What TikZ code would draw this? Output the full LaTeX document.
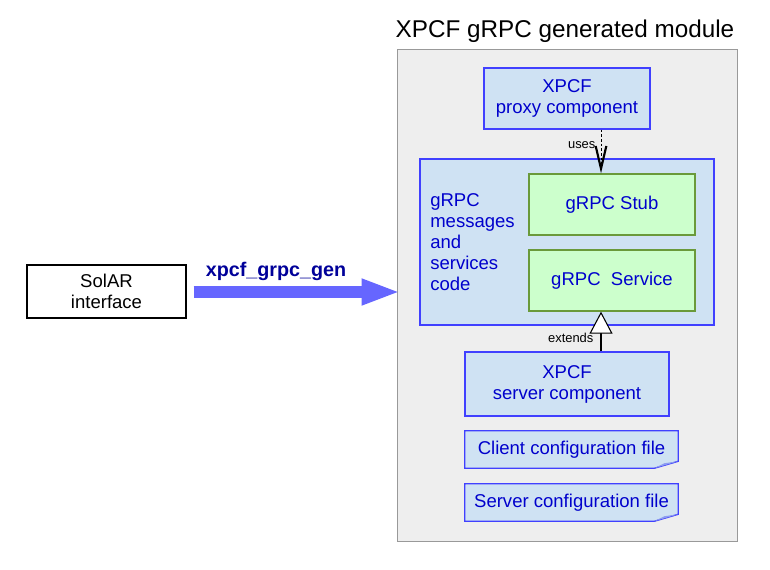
\documentclass[tikz,border=0pt]{standalone}
\usepackage{fontspec}
\setmainfont{Liberation Sans}
\usetikzlibrary{arrows.meta,calc}
\definecolor{txtblue}{HTML}{0000CC}
\definecolor{bordblue}{HTML}{4040FF}
\definecolor{fillblue}{HTML}{CFE2F3}
\definecolor{fillgreen}{HTML}{CCFFCC}
\definecolor{bordgreen}{HTML}{6A9A3A}
\definecolor{arrowblue}{HTML}{6666FF}
\definecolor{navy}{HTML}{000099}
\definecolor{modgray}{HTML}{EEEEEE}
\definecolor{foldblue}{HTML}{8C9CF0}
\tikzset{
  nodefont/.style={font=\fontsize{13.9}{15.75}\selectfont},
  bluebox/.style={nodefont, draw=bordblue, line width=1.1pt, fill=fillblue, text=txtblue, align=center, inner sep=0pt},
  greenbox/.style={nodefont, draw=bordgreen, line width=1pt, fill=fillgreen, text=txtblue, align=center, inner sep=0pt, minimum width=124.5pt, minimum height=45.75pt},
  cfgbox/.style={nodefont, text=txtblue, inner sep=0pt, minimum width=159.75pt, minimum height=27.75pt},
  smalllabel/.style={font=\fontsize{9.7}{11}\selectfont, inner sep=1pt}
}
\begin{document}
\begin{tikzpicture}[x=0.75pt,y=-0.75pt]
\useasboundingbox (0,0) rectangle (770,570);
% title
\node[font=\fontsize{18.2}{21}\selectfont, inner sep=0pt] (title) at (565,31) {XPCF gRPC generated module};
% module container
\node[draw=black!40, line width=0.75pt, fill=modgray, minimum width=255pt, minimum height=368.25pt, inner sep=0pt] (module) at (567,295.5) {};
% proxy
\node[bluebox, minimum width=124.5pt, minimum height=45.75pt] (proxy) at (567,98.5) {XPCF\\proxy component};
% grpc box
\node[bluebox, minimum width=220.5pt, minimum height=124.5pt] (grpc) at (567,242) {};
\node[nodefont, text=txtblue, align=left, anchor=west, inner sep=0pt] (grpctext) at (430,242) {gRPC\\messages\\and\\services\\code};
\node[greenbox] (stub) at (612,204.5) {gRPC Stub};
\node[greenbox] (service) at (612,280.5) {gRPC\ \ Service};
% server
\node[bluebox, minimum width=153pt, minimum height=48pt] (server) at (567,384) {XPCF\\server component};
% config files
\node[cfgbox] (clientcfg) at (571.5,449.5) {};
\node[cfgbox] (servercfg) at (571.5,502.5) {};
\foreach \n in {clientcfg,servercfg}{
  \draw[draw=bordblue, line width=1pt, fill=fillblue]
    (\n.north west) -- (\n.north east) -- ($(\n.south east)+(0,-7)$) -- ($(\n.south east)+(-24,0)$) -- (\n.south west) -- cycle;
  \fill[foldblue] ($(\n.south east)+(-24,0)$) -- ($(\n.south east)+(-14,-5)$) -- ($(\n.south east)+(0,-7)$) -- cycle;
}
\node[cfgbox] at (clientcfg) {Client configuration file};
\node[cfgbox] at (servercfg) {Server configuration file};
% SolAR
\node[nodefont, draw=black, line width=0.9pt, fill=white, align=center, inner sep=0pt, minimum width=119.25pt, minimum height=39.75pt] (solar) at (106.5,291.5) {SolAR\\interface};
% big arrow
\draw[arrowblue, line width=9pt, -{Triangle[length=29.25pt, width=18pt]}] ($(solar.east)+(7,0.5)$) -- ($(module.west |- 0,292)+(4,0)$);
\node[font=\bfseries\fontsize{14.8}{17}\selectfont, text=navy, inner sep=0pt] (genlabel) at (276,271) {xpcf\_grpc\_gen};
% uses
\coordinate (usestart) at ($(proxy.south)+(34,0)$);
\draw[line width=0.7pt, dash pattern=on 2pt off 1.5pt, -{Straight Barb[length=17pt, width=8pt, line width=1.6pt]}] (usestart) -- (usestart |- stub.north);
\node[smalllabel, anchor=east] (useslabel) at (597,145) {uses};
% extends
\coordinate (extstart) at ($(server.north)+(34,0)$);
\draw[line width=0.8pt, -{Triangle[length=16.5pt, width=17.25pt, fill=white, line width=0.8pt]}] (extstart) -- (extstart |- service.south);
\node[smalllabel, anchor=east] (extlabel) at (595,338) {extends};
\end{tikzpicture}
\end{document}
